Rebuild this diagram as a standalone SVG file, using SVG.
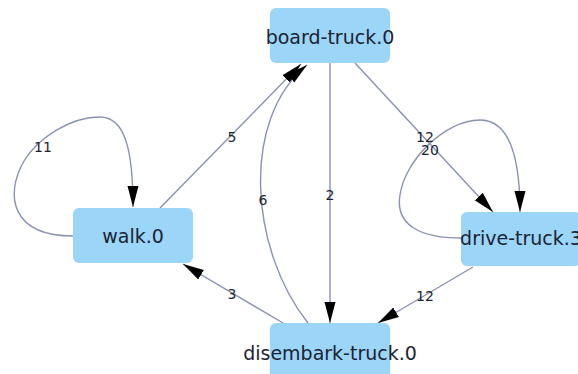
<svg xmlns="http://www.w3.org/2000/svg" width="578" height="374" viewBox="0 0 578 374">
<defs>
<style>
.node rect{fill:#9bd5f7;}
.node text{font-family:"DejaVu Sans",sans-serif;font-size:19px;fill:#1c2333;text-anchor:middle;}
.edge{fill:none;stroke:#8a92b2;stroke-width:1.4;}
.lbl{font-family:"DejaVu Sans",sans-serif;font-size:14px;fill:#1c2333;text-anchor:middle;dominant-baseline:central;}
</style>
<marker id="arr" markerUnits="userSpaceOnUse" markerWidth="22" markerHeight="13" viewBox="0 0 22 13" refX="21" refY="6.5" orient="auto">
<path d="M0,1 L21,6.5 L0,12 z" fill="#000"/>
</marker>
</defs>
<rect width="578" height="374" fill="#fff"/>
<g id="connectors">
<path class="edge" marker-end="url(#arr)" d="M73,236 C12,236 4,196 24,161 C38,138 70,117 100,117 C125,117 133,150 133,207"/>
<path class="edge" marker-end="url(#arr)" d="M160,208 L301,64"/>
<path class="edge" marker-end="url(#arr)" d="M308,323 C250,250 240,120 307,65"/>
<path class="edge" marker-end="url(#arr)" d="M330,63 L330,323"/>
<path class="edge" marker-end="url(#arr)" d="M355,63 L493,212"/>
<path class="edge" marker-end="url(#arr)" d="M461,238 C420,238 395,225 400,195 C405,160 445,120 480,120 C510,120 520,160 520,212"/>
<path class="edge" marker-end="url(#arr)" d="M473,267 L378,323"/>
<path class="edge" marker-end="url(#arr)" d="M283,323 L183,264"/>
<text class="lbl" x="43" y="147">11</text>
<text class="lbl" x="232" y="137">5</text>
<text class="lbl" x="263" y="200">6</text>
<text class="lbl" x="330" y="195">2</text>
<text class="lbl" x="425" y="137">12</text>
<text class="lbl" x="430" y="150">20</text>
<text class="lbl" x="425" y="296">12</text>
<text class="lbl" x="232" y="294">3</text>
</g>
<g id="board-truck" class="node"><rect x="270" y="8" width="120" height="55" rx="6"/><text x="330" y="44">board-truck.0</text></g>
<g id="walk" class="node"><rect x="73" y="208" width="120" height="55" rx="6"/><text x="133" y="243">walk.0</text></g>
<g id="drive-truck" class="node"><rect x="461" y="212" width="120" height="54" rx="6"/><text x="521" y="245">drive-truck.3</text></g>
<g id="disembark-truck" class="node"><rect x="270" y="323" width="120" height="56" rx="6"/><text x="330" y="360">disembark-truck.0</text></g>
</svg>
